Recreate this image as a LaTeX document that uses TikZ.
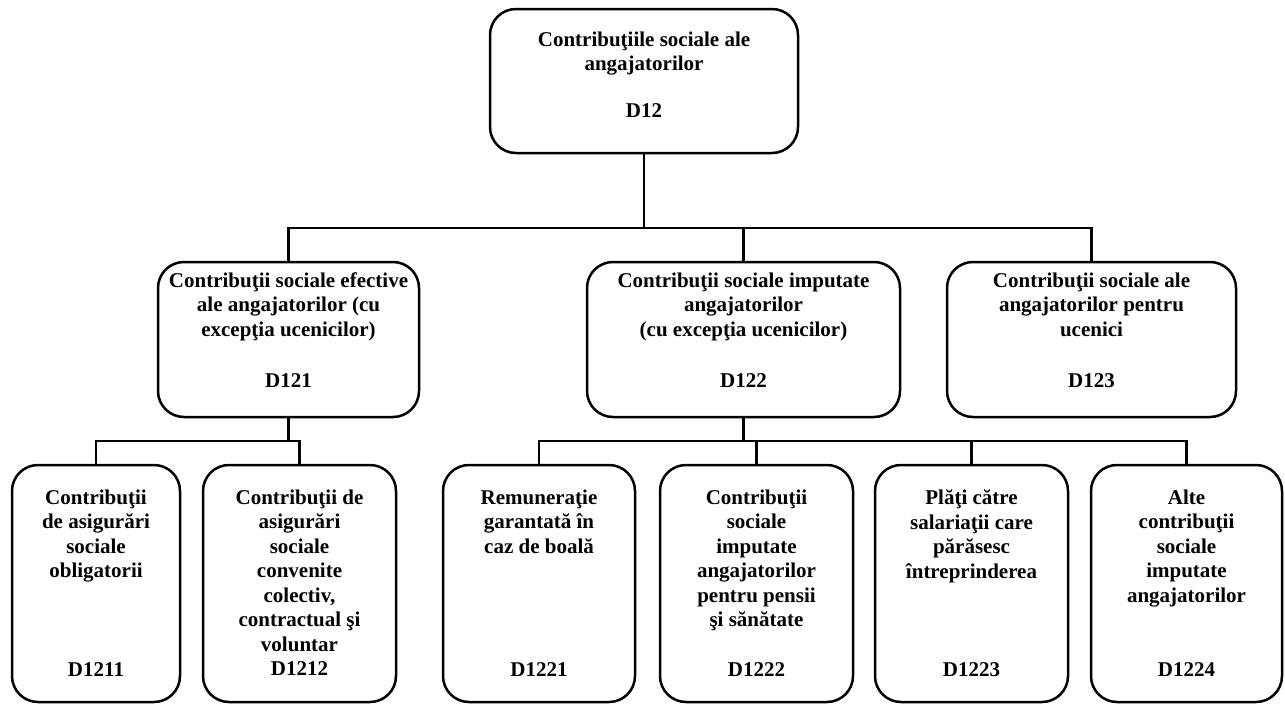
\documentclass[tikz,border=0pt]{standalone}
\usepackage{fontspec}
\setmainfont{Liberation Serif}
\begin{document}
\begin{tikzpicture}[x=1pt,y=-1pt,
  box/.style={draw, line width=2.5pt, rounded corners=26pt, inner sep=0pt},
  txt/.style={font=\fontsize{21}{24.5}\selectfont\bfseries, align=center, inner sep=0pt, anchor=north},
  code/.style={font=\fontsize{21}{24.5}\selectfont\bfseries, inner sep=0pt, anchor=base},
  conn/.style={line width=2.5pt}]
\useasboundingbox (0,0) rectangle (1285,704);
% boxes
\node[box, minimum width=308, minimum height=144] (top) at (644,81) {};
\node[box, minimum width=261, minimum height=155] (d121) at (288.5,339.5) {};
\node[box, minimum width=313, minimum height=155] (d122) at (743.5,339.5) {};
\node[box, minimum width=289, minimum height=155] (d123) at (1091.5,339.5) {};
\node[box, minimum width=168, minimum height=237] (d1211) at (96,583.5) {};
\node[box, minimum width=193, minimum height=237] (d1212) at (299.5,583.5) {};
\node[box, minimum width=192, minimum height=237] (d1221) at (539,583.5) {};
\node[box, minimum width=193, minimum height=237] (d1222) at (756.5,583.5) {};
\node[box, minimum width=193, minimum height=237] (d1223) at (971.5,583.5) {};
\node[box, minimum width=191, minimum height=237] (d1224) at (1186.5,583.5) {};
% texts
\node[txt] (ttop) at (644,31.5) {Contribuţiile sociale ale\\angajatorilor};
\node[code] (ctop) at (644,117) {D12};
\node[txt] (t121) at (288.5,272.5) {Contribuţii sociale efective\\ale angajatorilor (cu\\excepţia ucenicilor)};
\node[code] (c121) at (288.5,387) {D121};
\node[txt] (t122) at (743.5,272.5) {Contribuţii sociale imputate\\angajatorilor\\(cu excepţia ucenicilor)};
\node[code] (c122) at (743.5,387) {D122};
\node[txt] (t123) at (1091.5,272.5) {Contribuţii sociale ale\\angajatorilor pentru\\ucenici};
\node[code] (c123) at (1091.5,387) {D123};
\node[txt] (t1211) at (96,489.5) {Contribuţii\\de asigurări\\sociale\\obligatorii};
\node[code] (c1211) at (96,676) {D1211};
\node[txt] (t1212) at (299.5,489.5) {Contribuţii de\\asigurări\\sociale\\convenite\\colectiv,\\contractual şi\\voluntar\\D1212};
\node[txt] (t1221) at (539,489.5) {Remuneraţie\\garantată în\\caz de boală};
\node[code] (c1221) at (539,676) {D1221};
\node[txt] (t1222) at (756.5,489.5) {Contribuţii\\sociale\\imputate\\angajatorilor\\pentru pensii\\şi sănătate};
\node[code] (c1222) at (756.5,676) {D1222};
\node[txt] (t1223) at (971.5,489.5) {Plăţi către\\salariaţii care\\părăsesc\\întreprinderea};
\node[code] (c1223) at (971.5,676) {D1223};
\node[txt] (t1224) at (1186.5,489.5) {Alte\\contribuţii\\sociale\\imputate\\angajatorilor};
\node[code] (c1224) at (1186.5,676) {D1224};
% connectors
\coordinate (j1) at (644,228);
\coordinate (j2) at (288.5,441);
\coordinate (j3) at (743.5,441);
\draw[conn] (top.south) -- (j1);
\draw[conn] (d121.north) |- (j1);
\draw[conn] (d123.north) |- (j1);
\draw[conn] (d122.north) -- (d122.north |- j1);
\draw[conn] (d121.south) -- (j2);
\draw[conn] (d1211.north) |- (j2);
\draw[conn] (d1212.north) |- (j2);
\draw[conn] (d122.south) -- (j3);
\draw[conn] (d1221.north) |- (j3);
\draw[conn] (d1224.north) |- (j3);
\draw[conn] (d1222.north) -- (d1222.north |- j3);
\draw[conn] (d1223.north) -- (d1223.north |- j3);
\end{tikzpicture}
\end{document}
